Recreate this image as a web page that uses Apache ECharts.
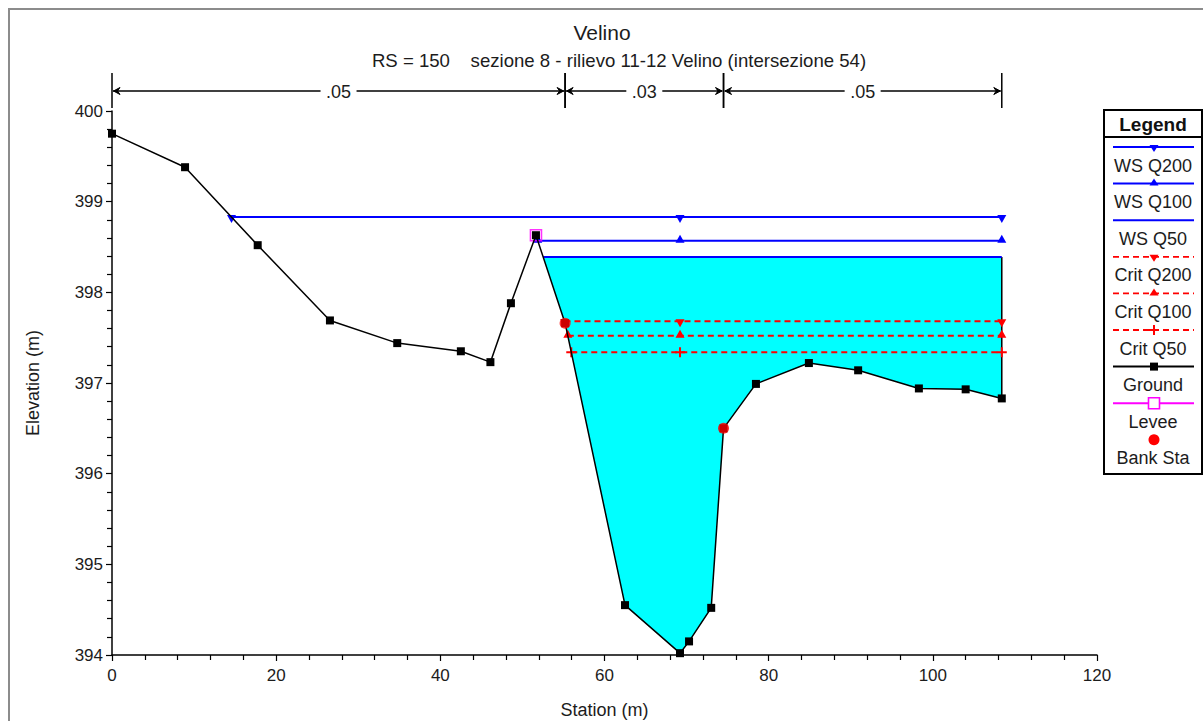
<!DOCTYPE html>
<html>
<head>
<meta charset="utf-8">
<script src="https://cdn.jsdelivr.net/npm/echarts@6/dist/echarts.min.js"></script>
<style>
html,body{margin:0;padding:0;background:#ffffff;}
#chart{width:1203px;height:721px;}
</style>
</head>
<body>
<div id="chart"></div>
<script>
// ---------------- data ----------------
const titleText = 'Velino';
const subtitleText = 'RS = 150    sezione 8 - rilievo 11-12 Velino (intersezione 54)';
const xAxisName = 'Station (m)';
const yAxisName = 'Elevation (m)';
const xTickLabels = [0, 20, 40, 60, 80, 100, 120];
const yTickLabels = [394, 395, 396, 397, 398, 399, 400];

const groundStation = [0, 8.9, 17.75, 26.55, 34.75, 42.5, 46.1, 48.6, 51.65, 55.2, 62.5, 69.2, 70.3, 73.0, 74.5, 78.45, 84.9, 90.9, 98.3, 104.0, 108.4];
const groundElev    = [399.75, 399.38, 398.52, 397.69, 397.44, 397.35, 397.23, 397.88, 398.63, 397.66, 394.55, 394.02, 394.15, 394.52, 396.50, 396.99, 397.22, 397.14, 396.94, 396.93, 396.83];
const leveeStation = [51.65];
const leveeElev = [398.63];
const bankStations = [55.2, 74.5];

const wsNames = ['WS Q200', 'WS Q100', 'WS Q50'];
const wsElev  = [398.83, 398.57, 398.39];
const critNames = ['Crit Q200', 'Crit Q100', 'Crit Q50'];
const critElev  = [397.68, 397.52, 397.34];
const otherNames = ['Ground', 'Levee', 'Bank Sta'];

const nStations = [0, 55.2, 74.5, 108.4];
const nValues = ['.05', '.03', '.05'];

// ---------------- helpers ----------------
const FONT = '"Liberation Sans", Arial, sans-serif';
const TXT = '#1c1c1c';
let kMin = 0;
groundElev.forEach((e, i) => { if (e < groundElev[kMin]) kMin = i; });
function leftEdge(ws) {
  for (let i = kMin; i > 0; i--) {
    if (groundElev[i - 1] >= ws) {
      const t = (ws - groundElev[i]) / (groundElev[i - 1] - groundElev[i]);
      return groundStation[i] + t * (groundStation[i - 1] - groundStation[i]);
    }
  }
  return groundStation[0];
}
function rightEdge(ws) {
  for (let i = kMin; i < groundStation.length - 1; i++) {
    if (groundElev[i + 1] >= ws) {
      const t = (ws - groundElev[i]) / (groundElev[i + 1] - groundElev[i]);
      return groundStation[i] + t * (groundStation[i + 1] - groundStation[i]);
    }
  }
  return groundStation[groundStation.length - 1];
}
function groundAt(x) {
  for (let i = 0; i < groundStation.length - 1; i++) {
    if (x >= groundStation[i] && x <= groundStation[i + 1]) {
      const t = (x - groundStation[i]) / (groundStation[i + 1] - groundStation[i]);
      return groundElev[i] + t * (groundElev[i + 1] - groundElev[i]);
    }
  }
  return groundElev[groundElev.length - 1];
}
function profileLine(ws) {
  return [[leftEdge(ws), ws], [groundStation[kMin], ws], [rightEdge(ws), ws]];
}

const fillWS = wsElev[wsElev.length - 1];
const fL = leftEdge(fillWS), fR = rightEdge(fillWS);
const fillPts = [[fL, fillWS]];
groundStation.forEach((s, i) => { if (s > fL && s <= fR) fillPts.push([s, groundElev[i]]); });
fillPts.push([fR, fillWS]);

const groundData = groundStation.map((s, i) => [s, groundElev[i]]);
const leveeData = leveeStation.map((s, i) => [s, leveeElev[i]]);
const bankData = bankStations.map(s => [s, groundAt(s)]);
const yMax = yTickLabels[yTickLabels.length - 1];
const nData = nValues.map((v, i) => [nStations[i], nStations[i + 1], yMax]);

// ---------------- series ----------------
const BLUE = '#0000ff', RED = '#ff0000';
const wsSym = [
  { symbol: 'triangle', rotate: 180, offset: [0, 2] },
  { symbol: 'triangle', rotate: 0, offset: [0, -2] },
  { symbol: 'none', rotate: 0, offset: [0, 0] }
];
const critSym = [
  { symbol: 'triangle', rotate: 180, offset: [0, 2] },
  { symbol: 'triangle', rotate: 0, offset: [0, -2] },
  { symbol: 'path://M4,0h2v4h4v2h-4v4h-2v-4h-4v-2h4z', rotate: 0, offset: [0, 0] }
];

const series = [];
series.push({
  type: 'custom', name: 'fill', silent: true, z: 1,
  data: fillPts,
  renderItem: function (params, api) {
    if (params.dataIndex !== 0) return null;
    const pts = fillPts.map(p => api.coord(p));
    const n = pts.length;
    return {
      type: 'group',
      children: [
        { type: 'polygon', shape: { points: pts }, style: { fill: '#00ffff' } },
        { type: 'line', shape: { x1: pts[n - 2][0], y1: pts[n - 2][1], x2: pts[n - 1][0], y2: pts[n - 1][1] },
          style: { stroke: '#000', lineWidth: 1.5 } }
      ]
    };
  }
});
series.push({
  type: 'custom', name: 'roughness', silent: true, z: 3,
  data: nData,
  encode: { x: [0, 1], y: 2 },
  renderItem: function (params, api) {
    const a = api.coord([api.value(0), api.value(2)]);
    const b = api.coord([api.value(1), api.value(2)]);
    const y = a[1] - 20, top = a[1] - 38, bot = a[1] - 3;
    const cx = (a[0] + b[0]) / 2, half = 18;
    const st = { stroke: '#000', lineWidth: 1.5 };
    return {
      type: 'group',
      children: [
        { type: 'line', shape: { x1: a[0], y1: top, x2: a[0], y2: bot }, style: st },
        { type: 'line', shape: { x1: b[0], y1: top, x2: b[0], y2: bot }, style: st },
        { type: 'line', shape: { x1: a[0] + 1, y1: y, x2: cx - half, y2: y }, style: st },
        { type: 'line', shape: { x1: cx + half, y1: y, x2: b[0] - 1, y2: y }, style: st },
        { type: 'polygon', shape: { points: [[a[0] + 8, y - 3.5], [a[0] + 1.5, y], [a[0] + 8, y + 3.5], [a[0] + 5.5, y]] }, style: { fill: '#000', stroke: '#000', lineWidth: 1 } },
        { type: 'polygon', shape: { points: [[b[0] - 8, y - 3.5], [b[0] - 1.5, y], [b[0] - 8, y + 3.5], [b[0] - 5.5, y]] }, style: { fill: '#000', stroke: '#000', lineWidth: 1 } },
        { type: 'text', style: { text: nValues[params.dataIndex], x: cx, y: y + 1, align: 'center', verticalAlign: 'middle', font: '18px ' + FONT, fill: TXT } }
      ]
    };
  }
});
wsNames.forEach((nm, i) => {
  series.push({
    type: 'line', name: nm, z: 4, data: profileLine(wsElev[i]),
    symbol: wsSym[i].symbol, symbolRotate: wsSym[i].rotate, symbolOffset: wsSym[i].offset,
    symbolSize: [9, 8], showAllSymbol: true,
    lineStyle: { color: BLUE, width: 2 }, itemStyle: { color: BLUE }
  });
});
critNames.forEach((nm, i) => {
  series.push({
    type: 'line', name: nm, z: 4, data: profileLine(critElev[i]),
    symbol: critSym[i].symbol, symbolRotate: critSym[i].rotate, symbolOffset: critSym[i].offset,
    symbolSize: i === 2 ? 10 : [9, 8], showAllSymbol: true,
    lineStyle: { color: RED, width: 2, type: [6, 4] }, itemStyle: { color: RED }
  });
});
series.push({
  type: 'scatter', name: otherNames[1], z: 5, data: leveeData, symbol: 'rect', symbolSize: 11,
  itemStyle: { color: 'rgba(0,0,0,0)', borderColor: '#ff00ff', borderWidth: 1.6 }
});
series.push({
  type: 'line', name: otherNames[0], z: 6, data: groundData, symbol: 'rect', symbolSize: 8, showAllSymbol: true,
  lineStyle: { color: '#000', width: 1.5 }, itemStyle: { color: '#000' }
});
series.push({
  type: 'scatter', name: otherNames[2], z: 7, data: bankData, symbol: 'circle', symbolSize: 11,
  itemStyle: { color: RED }
});

// ---------------- legend (graphic) ----------------
const LX0 = 1113, LX1 = 1194, LCX = 1154;
const legendDefs = [
  { name: wsNames[0], color: BLUE, dash: false, mk: 'down' },
  { name: wsNames[1], color: BLUE, dash: false, mk: 'up' },
  { name: wsNames[2], color: BLUE, dash: false, mk: null },
  { name: critNames[0], color: RED, dash: true, mk: 'down' },
  { name: critNames[1], color: RED, dash: true, mk: 'up' },
  { name: critNames[2], color: RED, dash: true, mk: 'plus' },
  { name: otherNames[0], color: '#000', dash: false, mk: 'square' },
  { name: otherNames[1], color: '#ff00ff', dash: false, mk: 'hollow' },
  { name: otherNames[2], color: RED, dash: null, mk: 'dot' }
];
const legendEls = [];
legendEls.push({ type: 'rect', shape: { x: 1104, y: 110, width: 98, height: 364 }, style: { fill: '#fff', stroke: '#000', lineWidth: 2 } });
legendEls.push({ type: 'text', style: { text: 'Legend', x: 1153, y: 124, align: 'center', verticalAlign: 'middle', font: 'bold 19px ' + FONT, fill: '#111' } });
legendEls.push({ type: 'line', shape: { x1: 1104, y1: 137, x2: 1202, y2: 137 }, style: { stroke: '#000', lineWidth: 2 } });
legendDefs.forEach((d, i) => {
  const y = 147 + i * 36.6;
  if (d.dash !== null) {
    legendEls.push({ type: 'line', shape: { x1: LX0, y1: y, x2: LX1, y2: y },
      style: { stroke: d.color, lineWidth: d.dash ? 1.8 : 2, lineDash: d.dash ? [6, 4] : null } });
  }
  if (d.mk === 'down') legendEls.push({ type: 'polygon', shape: { points: [[LCX - 4.5, y - 2], [LCX + 4.5, y - 2], [LCX, y + 5]] }, style: { fill: d.color } });
  if (d.mk === 'up') legendEls.push({ type: 'polygon', shape: { points: [[LCX - 4.5, y + 2], [LCX + 4.5, y + 2], [LCX, y - 5]] }, style: { fill: d.color } });
  if (d.mk === 'plus') {
    legendEls.push({ type: 'line', shape: { x1: LCX - 5, y1: y, x2: LCX + 5, y2: y }, style: { stroke: d.color, lineWidth: 2 } });
    legendEls.push({ type: 'line', shape: { x1: LCX, y1: y - 5, x2: LCX, y2: y + 5 }, style: { stroke: d.color, lineWidth: 2 } });
  }
  if (d.mk === 'square') legendEls.push({ type: 'rect', shape: { x: LCX - 4, y: y - 4, width: 8, height: 8 }, style: { fill: '#000' } });
  if (d.mk === 'hollow') legendEls.push({ type: 'rect', shape: { x: LCX - 5.5, y: y - 5.5, width: 11, height: 11 }, style: { fill: '#fff', stroke: d.color, lineWidth: 1.6 } });
  if (d.mk === 'dot') legendEls.push({ type: 'circle', shape: { cx: LCX, cy: y, r: 5.5 }, style: { fill: d.color } });
  legendEls.push({ type: 'text', style: { text: d.name, x: 1153, y: y + 18.5, align: 'center', verticalAlign: 'middle', font: '18px ' + FONT, fill: TXT } });
});

// ---------------- option ----------------
const chart = echarts.init(document.getElementById('chart'), null, { renderer: 'svg', width: 1203, height: 721 });
const option = {
  animation: false,
  backgroundColor: '#ffffff',
  title: [
    { text: titleText, left: 602, top: 22, textAlign: 'center', padding: 0,
      textStyle: { fontSize: 21, fontWeight: 'normal', color: TXT, fontFamily: FONT } },
    { text: subtitleText, left: 619, top: 51, textAlign: 'center', padding: 0,
      textStyle: { fontSize: 18.6, fontWeight: 'normal', color: TXT, fontFamily: FONT, whiteSpace: 'pre' } }
  ],
  grid: { left: 112, right: 106, top: 111, bottom: 66, containLabel: false, outerBoundsMode: 'none' },
  xAxis: {
    type: 'value', min: xTickLabels[0], max: xTickLabels[xTickLabels.length - 1],
    interval: xTickLabels[1] - xTickLabels[0],
    name: xAxisName, nameLocation: 'middle', nameGap: 46,
    nameTextStyle: { fontSize: 18, color: TXT, fontFamily: FONT },
    axisLine: { onZero: false, lineStyle: { color: '#000', width: 1.5 } },
    axisTick: { show: true, length: 6, lineStyle: { color: '#000', width: 1.2 } },
    minorTick: { show: true, splitNumber: 5, length: 5, lineStyle: { color: '#000', width: 1.2 } },
    axisLabel: { fontSize: 17, color: TXT, fontFamily: FONT, margin: 12 },
    splitLine: { show: false }
  },
  yAxis: {
    type: 'value', min: yTickLabels[0], max: yMax, interval: yTickLabels[1] - yTickLabels[0],
    name: yAxisName, nameLocation: 'middle', nameGap: 70, nameRotate: 90,
    nameTextStyle: { fontSize: 18, color: TXT, fontFamily: FONT },
    axisLine: { onZero: false, lineStyle: { color: '#000', width: 1.5 } },
    axisTick: { show: true, length: 6, lineStyle: { color: '#000', width: 1.2 } },
    minorTick: { show: true, splitNumber: 5, length: 5, lineStyle: { color: '#000', width: 1.2 } },
    axisLabel: { fontSize: 17, color: TXT, fontFamily: FONT, margin: 9 },
    splitLine: { show: false }
  },
  graphic: [
    { type: 'rect', z: -1, silent: true, shape: { x: 9, y: 9, width: 1200, height: 720 }, style: { fill: null, stroke: '#8c8c8c', lineWidth: 2 } },
    { type: 'group', silent: true, children: legendEls }
  ],
  series: series
};
chart.setOption(option);
</script>
</body>
</html>
